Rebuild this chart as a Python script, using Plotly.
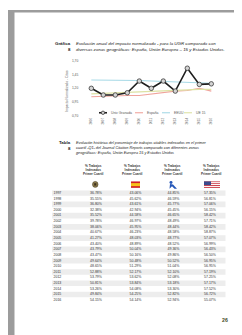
import plotly.graph_objects as go

W, H = 242, 335

# ---------------- chart data ----------------
chart_years = ['2006', '2007', '2008', '2009', '2010', '2011', '2012', '2013', '2014', '2015', '2016']
ugr = [1.20, 1.08, 1.08, 1.12, 1.33, 1.20, 1.33, 1.15, 1.56, 1.27, 1.28]
espana = [1.05, 1.06, 1.07, 1.07, 1.07, 1.10, 1.13, 1.15, 1.16, 1.20, 1.15]
eeuu = [1.35, 1.35, 1.35, 1.35, 1.34, 1.33, 1.32, 1.31, 1.30, 1.29, 1.29]
ue15 = [1.10, 1.11, 1.12, 1.12, 1.13, 1.14, 1.15, 1.16, 1.17, 1.18, 1.18]
series_names = ['Univ Granada', 'España', 'EEUU', 'UE 15']
y_tickvals = [0.70, 0.95, 1.20, 1.45, 1.70]
y_ticktext = ['0,70', '0,95', '1,20', '1,45', '1,70']
y_title = 'Impacto Normalizado - Citas'

# ---------------- table data ----------------
table_years = [1997, 1998, 1999, 2000, 2001, 2002, 2003, 2004, 2005, 2006,
               2007, 2008, 2009, 2010, 2011, 2012, 2013, 2014, 2015, 2016]
pct_ugr = [36.78, 35.55, 36.80, 32.38, 35.52, 39.78, 38.06, 40.67, 41.27, 43.40,
           43.79, 43.47, 49.64, 48.65, 52.88, 53.79, 50.81, 53.26, 49.84, 54.15]
pct_esp = [43.06, 45.62, 43.61, 42.94, 44.58, 46.97, 45.95, 46.23, 48.03, 48.89,
           50.04, 50.16, 50.48, 51.29, 52.17, 53.62, 53.84, 54.08, 54.25, 54.14]
pct_ue15 = [44.85, 46.59, 45.77, 45.45, 46.65, 48.49, 48.44, 48.58, 48.77, 48.52,
            49.36, 49.86, 50.52, 51.04, 52.10, 52.08, 53.18, 53.30, 52.82, 52.94]
pct_eeuu = [57.35, 56.81, 57.06, 56.15, 58.42, 57.71, 58.42, 58.87, 57.07, 56.99,
            56.43, 56.50, 56.95, 56.95, 57.19, 57.25, 57.17, 57.52, 56.72, 55.07]
table_header = '% Trabajos<br>Indexados<br>Primer Cuartil'

chart_caption_1 = 'Evolución anual del impacto normalizado - para la UGR comparado con'
chart_caption_2 = 'diversas zonas geográficas: España, Unión Europea – 15 y Estados Unidos.'
table_caption_1 = 'Evolución histórica del porcentaje de trabajos citables indexados en el primer'
table_caption_2 = 'cuartil -Q1- del Journal Citation Reports comparado con diferentes zonas'
table_caption_3 = 'geográficas: España, Unión Europea 15 y Estados Unidos'
page_number = '26'

# ---------------- helpers ----------------
def px(x):
    return x / W

def py(y):
    return 1 - y / H

FONT = 'Liberation Sans'
C_UGR = '#1e1e1e'
C_ESP = '#f0a49c'
C_EEUU = '#a6d9e6'
C_UE = '#dde2a4'
GREY_TXT = '#595959'

fig = go.Figure()

# chart lines
for vals, name, col in [(espana, series_names[1], C_ESP),
                        (eeuu, series_names[2], C_EEUU),
                        (ue15, series_names[3], C_UE)]:
    fig.add_trace(go.Scatter(x=chart_years, y=vals, name=name, mode='lines',
                             line=dict(color=col, width=1.1), showlegend=False,
                             hoverinfo='skip'))
fig.add_trace(go.Scatter(x=chart_years, y=ugr, name=series_names[0], mode='lines+markers',
                         line=dict(color=C_UGR, width=1.6),
                         marker=dict(symbol='circle', size=4.5, color='#d4d4d4',
                                     line=dict(color='#3a3a3a', width=0.8)),
                         showlegend=False, hoverinfo='skip'))

# table text via secondary axes
col_x = [88, 127.5, 165.5, 202]
fig.add_trace(go.Scatter(x=[45.5] * len(table_years), y=table_years,
                         text=[str(y) for y in table_years], mode='text',
                         textposition='middle right',
                         textfont=dict(size=3.5, color='#333333', family=FONT),
                         xaxis='x2', yaxis='y2', showlegend=False, hoverinfo='skip'))
for cx, vals in zip(col_x, [pct_ugr, pct_esp, pct_ue15, pct_eeuu]):
    fig.add_trace(go.Scatter(x=[cx] * len(vals), y=table_years,
                             text=[f'{v:.2f}%' for v in vals], mode='text',
                             textposition='middle center',
                             textfont=dict(size=3.5, color='#333333', family=FONT),
                             xaxis='x2', yaxis='y2', showlegend=False, hoverinfo='skip'))

shapes = []
# page frame
shapes.append(dict(type='rect', xref='paper', yref='paper', x0=0, x1=1, y0=0, y1=1,
                   fillcolor='#9c9c9c', line=dict(width=0), layer='below'))
shapes.append(dict(type='rect', xref='paper', yref='paper', x0=px(6.5), x1=px(240.5),
                   y0=py(333.2), y1=py(2.5), fillcolor='white', line=dict(width=0), layer='below'))
# row shading
for i, yv in enumerate(table_years):
    if i % 2 == 0:
        shapes.append(dict(type='rect', xref='paper', yref='y2', x0=px(44), x1=px(217.5),
                           y0=yv - 0.5, y1=yv + 0.5, fillcolor='#ededed',
                           line=dict(width=0), layer='below'))

# manual legend
LEG_Y = 104
leg_items = [(91, 99, 100.5, C_UGR, series_names[0], 1.6),
             (127, 135, 136.5, C_ESP, series_names[1], 1.1),
             (154, 162, 163.5, C_EEUU, series_names[2], 1.1),
             (176, 184, 185.5, C_UE, series_names[3], 1.1)]
annotations = []
for x0, x1, tx, col, name, lw in leg_items:
    shapes.append(dict(type='line', xref='paper', yref='paper', x0=px(x0), x1=px(x1),
                       y0=py(LEG_Y), y1=py(LEG_Y), line=dict(color=col, width=lw)))
    annotations.append(dict(x=px(tx), y=py(LEG_Y), xref='paper', yref='paper', text=name,
                            showarrow=False, xanchor='left', yanchor='middle',
                            font=dict(size=3.4, color=GREY_TXT, family=FONT)))
shapes.append(dict(type='circle', xref='paper', yref='paper', x0=px(93.3), x1=px(96.7),
                   y0=py(LEG_Y + 1.7), y1=py(LEG_Y - 1.7), fillcolor='#d4d4d4',
                   line=dict(color='#3a3a3a', width=0.8)))

# icons above table columns
IC = 176.5
# UGR crest
shapes.append(dict(type='circle', xref='paper', yref='paper', x0=px(84.5), x1=px(90),
                   y0=py(IC + 3), y1=py(IC - 3), fillcolor='#8c7b4c', line=dict(color='#4a3f24', width=0.6)))
shapes.append(dict(type='rect', xref='paper', yref='paper', x0=px(86.2), x1=px(88.3),
                   y0=py(IC + 1.2), y1=py(IC - 1.2), fillcolor='#3b2f1c', line=dict(width=0)))
# Spain flag
shapes.append(dict(type='rect', xref='paper', yref='paper', x0=px(123), x1=px(132),
                   y0=py(180), y1=py(173.5), fillcolor='#d21f26', line=dict(width=0)))
shapes.append(dict(type='rect', xref='paper', yref='paper', x0=px(123), x1=px(132),
                   y0=py(178.3), y1=py(175.2), fillcolor='#f6c21a', line=dict(width=0)))
# EU blue figure
shapes.append(dict(type='circle', xref='paper', yref='paper', x0=px(161.5), x1=px(164.5),
                   y0=py(176), y1=py(173), fillcolor='#2456b8', line=dict(width=0)))
shapes.append(dict(type='path', xref='paper', yref='paper',
                   path=f'M {px(162)},{py(176)} L {px(165)},{py(176.5)} L {px(169)},{py(181)} '
                        f'L {px(166.5)},{py(181)} L {px(164)},{py(178.5)} L {px(161.5)},{py(181)} Z',
                   fillcolor='#2456b8', line=dict(width=0)))
# US flag
fx0, fx1, fy0, fy1 = 196, 212, 173.5, 180
n_str = 7
for k in range(n_str):
    shapes.append(dict(type='rect', xref='paper', yref='paper', x0=px(fx0), x1=px(fx1),
                       y0=py(fy0 + (k + 1) * (fy1 - fy0) / n_str), y1=py(fy0 + k * (fy1 - fy0) / n_str),
                       fillcolor='#c8313e' if k % 2 == 0 else '#ffffff', line=dict(width=0)))
shapes.append(dict(type='rect', xref='paper', yref='paper', x0=px(fx0), x1=px(fx0 + 7),
                   y0=py(fy0 + 3.7), y1=py(fy0), fillcolor='#3c4a8c', line=dict(width=0)))

# texts: captions
def ann(x, y, text, size, xanchor='left', color='#1a1a1a', **kw):
    annotations.append(dict(x=px(x), y=py(y), xref='paper', yref='paper', text=text,
                            showarrow=False, xanchor=xanchor, yanchor='middle',
                            font=dict(size=size, color=color, family=FONT), **kw))

ann(64.5, 34.3, '<b>Gráfica</b>', 4.4, xanchor='right')
ann(64.5, 40.0, '<b>8</b>', 4.4, xanchor='right')
ann(66, 34.3, f'<i>{chart_caption_1}</i>', 4.4)
ann(66, 40.0, f'<i>{chart_caption_2}</i>', 4.4)

ann(64.5, 134.3, '<b>Tabla</b>', 4.4, xanchor='right')
ann(64.5, 139.7, '<b>8</b>', 4.4, xanchor='right')
ann(66, 134.3, f'<i>{table_caption_1}</i>', 3.8)
ann(66, 139.7, f'<i>{table_caption_2}</i>', 3.8)
ann(66, 145.0, f'<i>{table_caption_3}</i>', 3.8)

# table headers
for cx in [85, 125, 164, 203]:
    ann(cx, 161.5, f'<b>{table_header}</b>', 3.1, xanchor='center', color='#333333')

# y-axis title
ann(59, 82, y_title, 3.3, xanchor='center', color=GREY_TXT, textangle=-90)

# data label on last point
annotations.append(dict(x=chart_years[-1], y=ugr[-1], xref='x', yref='y',
                        text=f'{ugr[-1]:.2f}'.replace('.', ','), showarrow=False,
                        yshift=5, font=dict(size=3.4, color='#404040', family=FONT)))

# page number
ann(217, 313.5, f'<b>{page_number}</b>', 5.2, xanchor='center', color='#3f4a26')

fig.update_layout(
    width=W, height=H, margin=dict(l=0, r=0, t=0, b=0),
    paper_bgcolor='white', plot_bgcolor='rgba(0,0,0,0)',
    showlegend=False,
    xaxis=dict(domain=[px(77.3), px(209.3)], type='category', range=[-0.5, 10.5],
               showgrid=False, zeroline=False, showline=False, tickangle=-90,
               tickfont=dict(size=3, color=GREY_TXT, family=FONT), ticks='', anchor='y'),
    yaxis=dict(domain=[py(107.5), py(51)], range=[0.70, 1.70], tickvals=y_tickvals,
               ticktext=y_ticktext, showgrid=False, zeroline=False, showline=False,
               tickfont=dict(size=3.3, color=GREY_TXT, family=FONT), ticks='',
               ticklabelstandoff=6, anchor='x'),
    xaxis2=dict(domain=[0, 1], range=[0, W], visible=False, anchor='y2', fixedrange=True),
    yaxis2=dict(domain=[py(296.5), py(182.4)], range=[2016.5, 1996.5], visible=False,
                anchor='x2', fixedrange=True),
    shapes=shapes, annotations=annotations,
)

fig.write_html('out.html')
